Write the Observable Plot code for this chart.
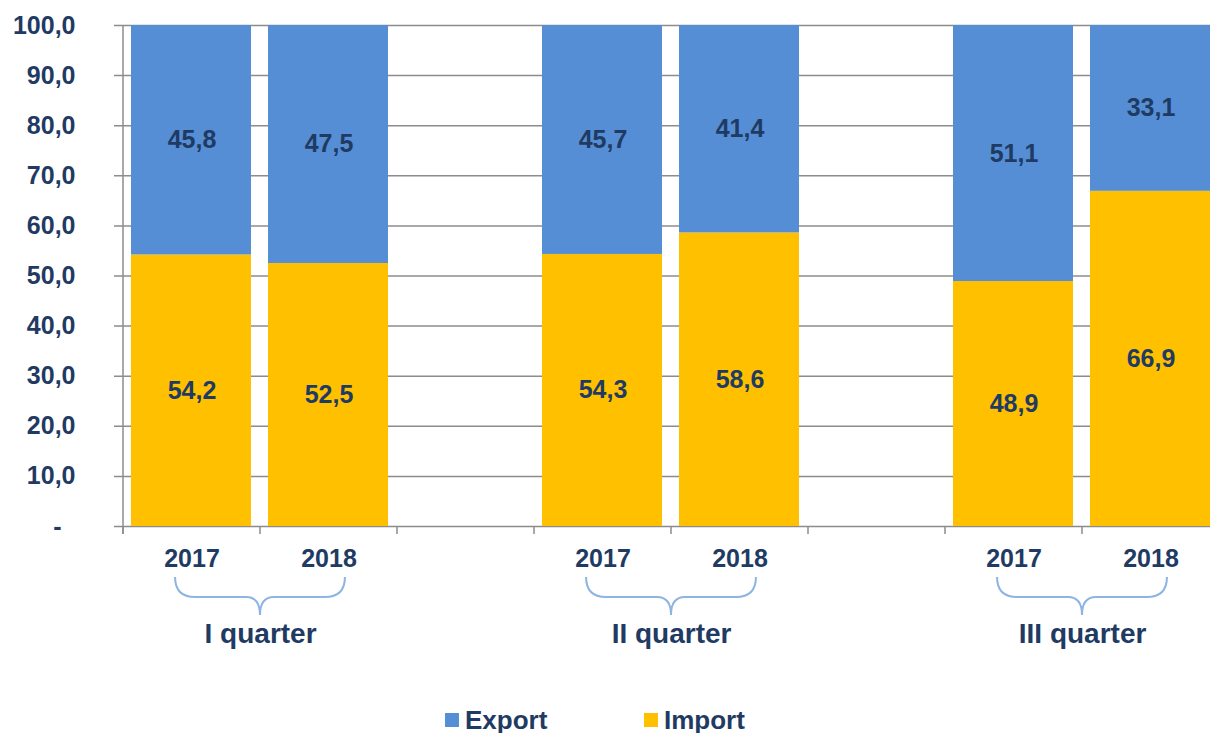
<!DOCTYPE html>
<html>
<head>
<meta charset="utf-8">
<script src="https://cdn.jsdelivr.net/npm/d3@7"></script>
<script src="https://cdn.jsdelivr.net/npm/@observablehq/plot@0.6"></script>
<style>
  html, body { margin: 0; padding: 0; background: #fff; }
  #chart svg { display: block; }
  #chart svg text { white-space: pre; }
  #legend { position: relative; width: 1210px; height: 33px; font-family: "Liberation Sans", Arial, sans-serif; font-weight: bold; font-size: 26px; color: #1f3b63; }
  #legend .sw { position: absolute; top: 13px; width: 14px; height: 14px; }
  #legend .lb { position: absolute; top: 7px; line-height: 26px; white-space: nowrap; }
</style>
</head>
<body>
<div id="chart"></div>
<div id="legend"></div>
<script>
// ---- data ----
const quarters = ["I quarter", "II quarter", "III quarter"];
const years = ["2017", "2018"];
const exportShare = [[45.8, 47.5], [45.7, 41.4], [51.1, 33.1]];
const importShare = [[54.2, 52.5], [54.3, 58.6], [48.9, 66.9]];
const yTicks = [0, 10, 20, 30, 40, 50, 60, 70, 80, 90, 100];
const seriesNames = ["Export", "Import"];
const seriesColors = ["#558ED5", "#FFC000"];

// ---- build table ----
const slots = [];
const rows = [];
quarters.forEach((q, qi) => {
  years.forEach((yr, yi) => {
    const slot = `${q} ${yr}`;
    slots.push(slot);
    rows.push({slot, quarter: q, year: yr, type: "Import", value: importShare[qi][yi]});
    rows.push({slot, quarter: q, year: yr, type: "Export", value: exportShare[qi][yi]});
  });
  if (qi < quarters.length - 1) slots.push(`gap${qi}`);
});

const navy = "#1f3b63";
const gridColor = "#8c8c8c";
const xRange = [122, 1219];
const step = (xRange[1] - xRange[0]) / slots.length;
const fmt = v => v === 0 ? "-\u00a0\u00a0" : v.toFixed(1).replace(".", ",");

function decor(...args) {
  const sc = args.find(a => a && typeof a.x === "function" && typeof a.y === "function");
  const x = sc.x, y = sc.y;
  const bw = x.bandwidth ? x.bandwidth() : step;
  const y0 = y(0);
  const g = d3.create("svg:g");
  // left axis line
  g.append("line")
    .attr("x1", x(slots[0])).attr("x2", x(slots[0]))
    .attr("y1", y(100)).attr("y2", y0 + 8)
    .attr("stroke", gridColor).attr("stroke-width", 1.5);
  // bottom ticks at slot boundaries
  slots.forEach(s => {
    g.append("line")
      .attr("x1", x(s)).attr("x2", x(s))
      .attr("y1", y0).attr("y2", y0 + 8)
      .attr("stroke", gridColor).attr("stroke-width", 1.5);
  });
  // braces
  quarters.forEach(q => {
    const c = x(`${q} ${years[1]}`);
    const half = bw * 0.62;
    const l = c - half, r = c + half;
    const t = y0 + 51, m = y0 + 71, tip = y0 + 89;
    const rr = 20, rc = 14;
    const d = `M${l},${t} Q${l},${m} ${l + rr},${m} L${c - rc},${m} Q${c},${m} ${c},${tip} Q${c},${m} ${c + rc},${m} L${r - rr},${m} Q${r},${m} ${r},${t}`;
    g.append("path").attr("d", d).attr("fill", "none")
      .attr("stroke", "#8DB4E2").attr("stroke-width", 2);
  });
  return g.node();
}

const chart = Plot.plot({
  width: 1210,
  height: 700,
  marginLeft: 122,
  marginRight: 0,
  marginTop: 25,
  marginBottom: 174,
  style: {fontFamily: "'Liberation Sans', Arial, sans-serif", fontWeight: "bold", fontSize: "25px", color: navy, background: "white", overflow: "visible"},
  x: {domain: slots, range: xRange, padding: 0, axis: null},
  y: {domain: [0, 100], ticks: yTicks, tickFormat: fmt, tickSize: 0, tickPadding: 47, label: null},
  color: {domain: seriesNames, range: seriesColors},
  marks: [
    Plot.ruleY(yTicks, {y: d => d, stroke: gridColor, strokeWidth: 1.5, insetLeft: -8}),
    Plot.barY(rows, {x: "slot", y: "value", fill: "type", insetLeft: 8, insetRight: 9}),
    Plot.text(rows, Plot.stackY({x: "slot", y: "value", text: d => fmt(d.value), fill: navy, fontSize: 25, fontWeight: "bold"})),
    Plot.text(rows.filter(d => d.type === "Import"), {x: "slot", text: "year", frameAnchor: "bottom", lineAnchor: "middle", dy: 32, fill: navy, fontSize: 25, fontWeight: "bold"}),
    Plot.text(quarters, {x: q => `${q} ${years[0]}`, text: d => d, frameAnchor: "bottom", lineAnchor: "middle", dx: step / 2, dy: 108, fill: navy, fontSize: 28, fontWeight: "bold"}),
    decor
  ]
});
document.getElementById("chart").appendChild(chart);

// legend
const legend = document.getElementById("legend");
const legendPos = [445, 644];
seriesNames.forEach((name, i) => {
  const sw = document.createElement("span");
  sw.className = "sw";
  sw.style.left = legendPos[i] + "px";
  sw.style.background = seriesColors[i];
  legend.appendChild(sw);
  const lb = document.createElement("span");
  lb.className = "lb";
  lb.style.left = (legendPos[i] + 20) + "px";
  lb.textContent = name;
  legend.appendChild(lb);
});
</script>
</body>
</html>
